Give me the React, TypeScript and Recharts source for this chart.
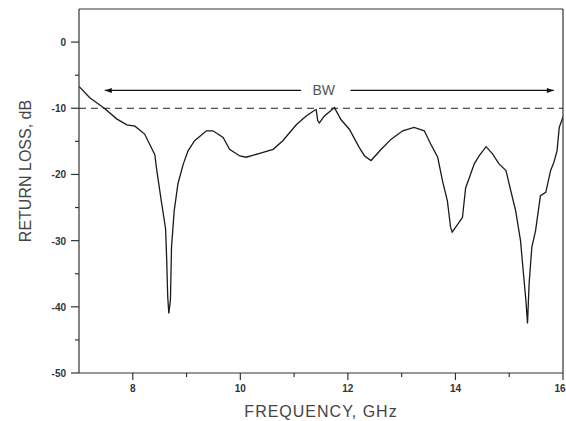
import React from "react";
import {
  LineChart,
  Line,
  XAxis,
  YAxis,
  ReferenceLine,
  ReferenceDot,
} from "recharts";

const frequency = [
  7.0, 7.2, 7.47, 7.7, 7.89, 8.04, 8.22, 8.41, 8.44, 8.53, 8.61, 8.63, 8.65, 8.67,
  8.7, 8.72, 8.77, 8.84, 8.94, 9.03, 9.15, 9.37, 9.49, 9.68, 9.8, 9.99, 10.11,
  10.36, 10.61, 10.79, 11.04, 11.22, 11.38, 11.41, 11.44, 11.47, 11.56, 11.75,
  11.87, 12.03, 12.21, 12.31, 12.43, 12.62, 12.8, 13.02, 13.23, 13.42, 13.54,
  13.67, 13.76, 13.85, 13.91, 13.94, 14.07, 14.13, 14.19, 14.25, 14.35, 14.44,
  14.57, 14.69, 14.81, 14.94, 15.03, 15.12, 15.21, 15.27, 15.31, 15.34, 15.37,
  15.42, 15.49, 15.58, 15.68, 15.77, 15.83, 15.89, 15.93, 16.0,
];
const returnLoss = [
  -6.7, -8.4, -10, -11.6, -12.5, -12.7, -13.9, -17, -19, -24, -28.2, -32.7, -38.5,
  -41, -39, -31, -25.5, -21.4, -18.4, -16.4, -14.9, -13.4, -13.4, -14.4, -16.2,
  -17.2, -17.4, -16.8, -16.2, -14.9, -12.5, -11.2, -10.3, -10.2, -11.9, -12.2,
  -11.2, -9.9, -11.7, -13.2, -15.9, -17.2, -17.9, -16.2, -14.7, -13.4, -12.9,
  -13.4, -15.4, -17.4, -21, -24, -28, -28.7, -27.2, -26.5, -22, -20.7, -18.4,
  -17.2, -15.8, -16.9, -18.4, -19.4, -22.5, -25.5, -30, -35.5, -39, -42.5, -36.5,
  -31, -28.5, -23.2, -22.7, -19.4, -18.2, -16.4, -12.9, -11.3,
];

const xTicks = [8, 9, 10, 11, 12, 13, 14, 15, 16];
const xLabelTicks = [8, 10, 12, 14, 16];
const yTicks = [-50, -45, -40, -35, -30, -25, -20, -15, -10, -5, 0];
const yLabelTicks = [-50, -40, -30, -20, -10, 0];

// bandwidth annotation
const bwStart = 7.48;
const bwEnd = 15.83;
const bwLevel = -7.3;
const bwTextX = 11.55;
const bwGapLeft = 11.13;
const bwGapRight = 12.05;

const data = frequency.map((f, i) => ({ f, rl: returnLoss[i] }));

const FONT = "Arial, 'Liberation Sans', sans-serif";
const AXIS = "#333";

const XTick = (props: any) => {
  const { x, y, payload } = props;
  const major = xLabelTicks.includes(payload.value);
  // last label sits on the right edge, nudge it in so it is not clipped
  const lx = payload.value === 16 ? x - 3 : x;
  return (
    <g>
      <line x1={x} y1={y} x2={x} y2={y + (major ? 7 : 4)} stroke={AXIS} strokeWidth={1.2} />
      {major && (
        <text x={lx} y={y + 19} textAnchor="middle" fontSize={10} fontWeight="bold" fill="#333" fontFamily={FONT}>
          {payload.value}
        </text>
      )}
    </g>
  );
};

const YTick = (props: any) => {
  const { x, y, payload } = props;
  const major = yLabelTicks.includes(payload.value);
  return (
    <g>
      <line x1={x} y1={y} x2={x - (major ? 8 : 4)} y2={y} stroke={AXIS} strokeWidth={1.2} />
      {major && (
        <text x={x - 13} y={y + 4} textAnchor="end" fontSize={10} fontWeight="bold" fill="#333" fontFamily={FONT}>
          {payload.value}
        </text>
      )}
    </g>
  );
};

const YTitle = () => {
  const cx = 25;
  const cy = 171;
  return (
    <text
      x={cx}
      y={cy}
      transform={`rotate(-90, ${cx}, ${cy})`}
      textAnchor="middle"
      dominantBaseline="central"
      fontSize={16}
      fill="#444"
      fontFamily={FONT}
    >
      RETURN LOSS, dB
    </text>
  );
};

const XTitle = (props: any) => {
  const { viewBox } = props;
  return (
    <text
      x={viewBox.x + viewBox.width / 2}
      y={417}
      textAnchor="middle"
      fontSize={16}
      letterSpacing={1}
      fill="#444"
      fontFamily={FONT}
    >
      FREQUENCY, GHz
    </text>
  );
};

const ArrowHead = (dir: number) => (props: any) => {
  const { cx, cy } = props;
  const l = 7;
  return (
    <path
      d={`M${cx},${cy} L${cx - dir * l},${cy - 2.5} L${cx - dir * l},${cy + 2.5} Z`}
      fill="#111"
    />
  );
};

const BwText = (props: any) => {
  const { cx, cy } = props;
  return (
    <text x={cx} y={cy + 5} textAnchor="middle" fontSize={14} fill="#555" fontFamily={FONT}>
      BW
    </text>
  );
};

export default function App() {
  return (
    <div style={{ position: "absolute", left: 0, top: 0, width: 566, height: 421, background: "#fff" }}>
      <LineChart
        width={566}
        height={421}
        data={data}
        margin={{ top: 9, right: 3, bottom: 0, left: 0 }}
      >
        <XAxis
          dataKey="f"
          type="number"
          domain={[7, 16]}
          ticks={xTicks}
          allowDataOverflow
          height={48}
          tickSize={0}
          tickMargin={0}
          tickLine={false}
          tick={<XTick />}
          axisLine={{ stroke: AXIS, strokeWidth: 1.2 }}
          label={<XTitle />}
          interval={0}
        />
        <YAxis
          type="number"
          domain={[-50, 5]}
          ticks={yTicks}
          allowDataOverflow
          width={79}
          tickSize={0}
          tickMargin={0}
          tickLine={false}
          tick={<YTick />}
          axisLine={{ stroke: AXIS, strokeWidth: 1.2 }}
          label={<YTitle />}
          interval={0}
        />
        <ReferenceLine y={5} stroke={AXIS} strokeWidth={1.2} />
        <ReferenceLine x={16} stroke={AXIS} strokeWidth={1.2} />
        <ReferenceLine y={-10} stroke="#222" strokeWidth={1} strokeDasharray="7 5" />
        <ReferenceLine
          segment={[
            { x: bwStart, y: bwLevel },
            { x: bwGapLeft, y: bwLevel },
          ]}
          stroke="#111"
          strokeWidth={1.2}
        />
        <ReferenceLine
          segment={[
            { x: bwGapRight, y: bwLevel },
            { x: bwEnd, y: bwLevel },
          ]}
          stroke="#111"
          strokeWidth={1.2}
        />
        <ReferenceDot x={bwStart} y={bwLevel} r={0} shape={ArrowHead(-1)} />
        <ReferenceDot x={bwEnd} y={bwLevel} r={0} shape={ArrowHead(1)} />
        <ReferenceDot x={bwTextX} y={bwLevel} r={0} shape={BwText} />
        <Line
          type="linear"
          dataKey="rl"
          stroke="#1a1a1a"
          strokeWidth={1.3}
          dot={false}
          isAnimationActive={false}
        />
      </LineChart>
    </div>
  );
}
